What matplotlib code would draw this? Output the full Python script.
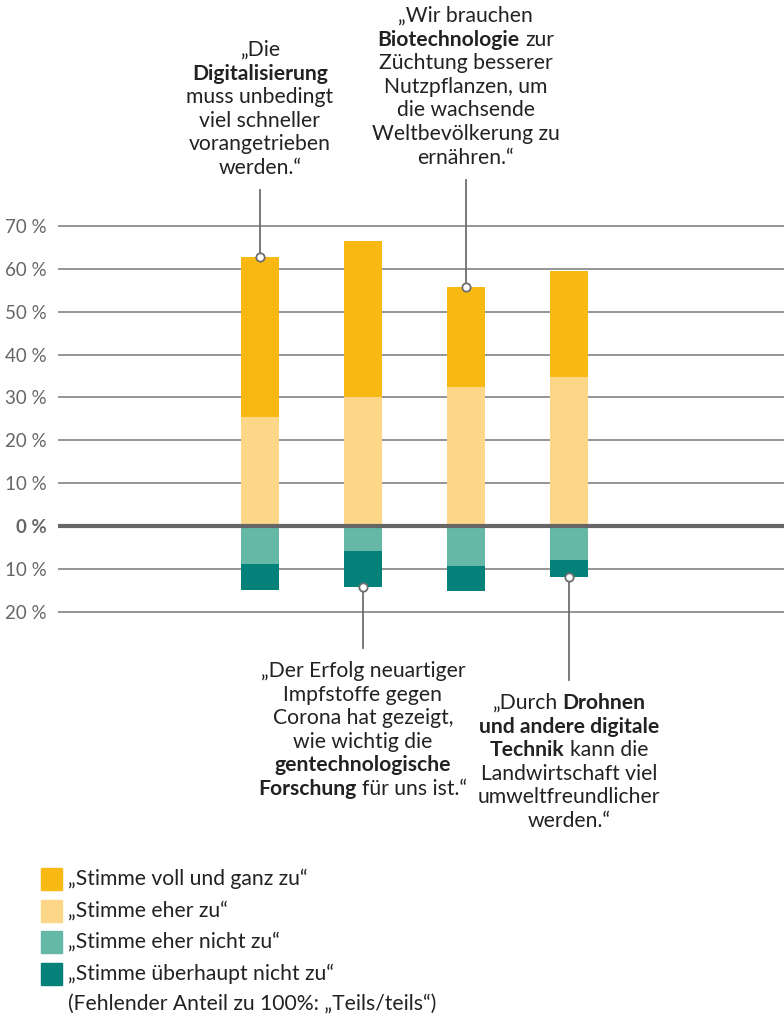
import matplotlib.pyplot as plt
from matplotlib.patches import Rectangle
from matplotlib.transforms import IdentityTransform

plt.rcParams['font.family'] = ['Lato', 'DejaVu Sans']

# Anteile in Prozent
statements = ['Digitalisierung', 'Impfstoffe', 'Biotechnologie', 'Drohnen']
voll = [37.3, 36.3, 23.4, 24.7]
eher = [25.4, 30.2, 32.4, 34.8]
eher_nicht = [8.8, 5.8, 9.3, 7.9]
gar_nicht = [6.2, 8.5, 5.8, 4.1]

series_labels = ['„Stimme voll und ganz zu“', '„Stimme eher zu“',
                 '„Stimme eher nicht zu“', '„Stimme überhaupt nicht zu“']
footnote = '(Fehlender Anteil zu 100%: „Teils/teils“)'
colors = ['#F8B912', '#FDD688', '#66B8A6', '#04827A']

ticks = [-20, -10, 0, 10, 20, 30, 40, 50, 60, 70]
tick_labels = ['20 %', '10 %', '0 %', '10 %', '20 %', '30 %', '40 %', '50 %', '60 %', '70 %']

# Zitate: (Balken, oben/unten, Zeilen aus (Text, fett)-Teilen)
quotes = [
    (0, 'top', [[('„Die', False)], [('Digitalisierung', True)], [('muss unbedingt', False)],
                [('viel schneller', False)], [('vorangetrieben', False)], [('werden.“', False)]]),
    (2, 'top', [[('„Wir brauchen', False)], [('Biotechnologie', True), ('zur', False)],
                [('Züchtung besserer', False)], [('Nutzpflanzen, um', False)],
                [('die wachsende', False)], [('Weltbevölkerung zu', False)], [('ernähren.“', False)]]),
    (1, 'bottom', [[('„Der Erfolg neuartiger', False)], [('Impfstoffe gegen', False)],
                   [('Corona hat gezeigt,', False)], [('wie wichtig die', False)],
                   [('gentechnologische', True)], [('Forschung', True), ('für uns ist.“', False)]]),
    (3, 'bottom', [[('„Durch', False), ('Drohnen', True)], [('und andere digitale', True)],
                   [('Technik', True), ('kann die', False)], [('Landwirtschaft viel', False)],
                   [('umweltfreundlicher', False)], [('werden.“', False)]]),
]
quote_first_line = [50, 16, 671, 703]
quote_line_end = [190, 180, 648, 680]

W, H = 784, 1021
fig = plt.figure(figsize=(W / 100, H / 100), dpi=100)
ax = fig.add_axes([58 / W, 1 - 613.9 / H, (W - 58) / W, (613.9 - 223.9) / H])
ax.set_xlim(-1.96, 5.09)
ax.set_ylim(-20.5, 70.5)
for s in ax.spines.values():
    s.set_visible(False)
ax.set_xticks([])

x = list(range(len(statements)))
bw = 0.37
ax.bar(x, eher, bw, color=colors[1], zorder=2)
ax.bar(x, voll, bw, bottom=eher, color=colors[0], zorder=2)
ax.bar(x, [-v for v in eher_nicht], bw, color=colors[2], zorder=2)
ax.bar(x, [-v for v in gar_nicht], bw, bottom=[-v for v in eher_nicht], color=colors[3], zorder=2)

for t in ticks:
    if t == 0:
        ax.axhline(0, color='#666666', lw=3, zorder=3)
    else:
        ax.axhline(t, color='#8c8c8c', lw=1.3, zorder=1)
ax.set_yticks(ticks)
ax.set_yticklabels(tick_labels, fontsize=13.5, color='#666666')
ax.tick_params(axis='y', length=0, pad=8)
for lab in ax.get_yticklabels():
    if lab.get_text() == '0 %':
        lab.set_fontweight('bold')

renderer = fig.canvas.get_renderer()
TEXT = '#222222'
FS = 15.2


def rich_line(xc, ypx, parts):
    items = []
    for s, bold in parts:
        t = fig.text(0, 0, s, fontsize=FS, fontweight='bold' if bold else 'normal',
                     color=TEXT, va='center', ha='left', transform=IdentityTransform())
        items.append(t)
    widths = [t.get_window_extent(renderer).width for t in items]
    gap = FS * 100 / 72 * 0.25
    total = sum(widths) + gap * (len(items) - 1)
    xs = xc - total / 2
    for t, w in zip(items, widths):
        t.set_position((xs, H - ypx))
        xs += w + gap


inv = ax.transData.inverted()
for (bar, side, lines), y0, yend in zip(quotes, quote_first_line, quote_line_end):
    xc = ax.transData.transform((bar, 0))[0]
    for i, parts in enumerate(lines):
        rich_line(xc, y0 + i * 23.6, parts)
    if side == 'top':
        yb = eher[bar] + voll[bar]
    else:
        yb = -(eher_nicht[bar] + gar_nicht[bar])
    ye = inv.transform((xc, H - yend))[1]
    ax.plot([bar, bar], [yb, ye], color='#6e6e6e', lw=1.3, clip_on=False, zorder=4)
    ax.plot([bar], [yb], 'o', ms=6, mfc='white', mec='#6e6e6e', mew=1.3, clip_on=False, zorder=5)

# Legende
rows = [879, 911, 942, 974]
for c, lab, yc in zip(colors, series_labels, rows):
    fig.add_artist(Rectangle((41, H - yc - 11), 21, 22, color=c, transform=IdentityTransform()))
    fig.text(68, H - yc, lab, fontsize=FS, color=TEXT, va='center', ha='left', transform=IdentityTransform())
fig.text(68, H - 1005, footnote, fontsize=FS, color=TEXT, va='center', ha='left', transform=IdentityTransform())

fig.savefig('out.png', dpi=100)
